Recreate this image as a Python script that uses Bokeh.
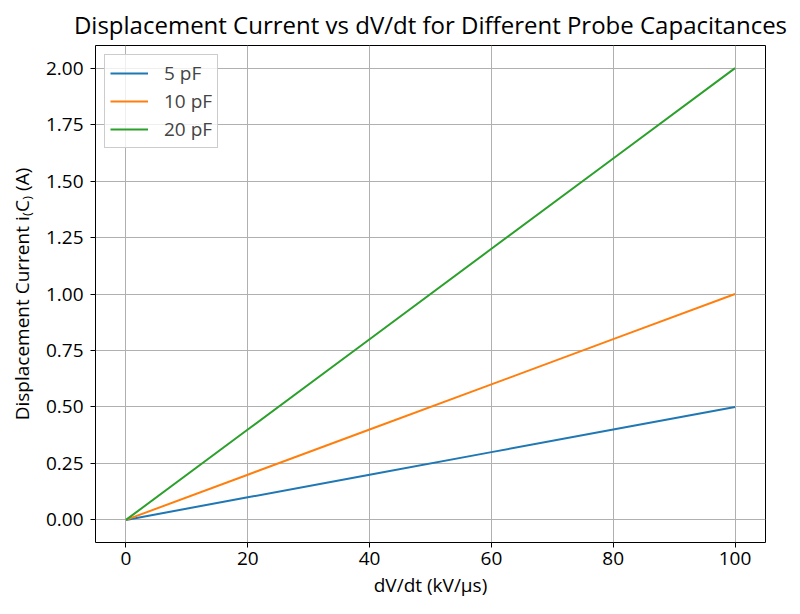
from bokeh.plotting import figure
from bokeh.models import Range1d, FixedTicker, NumeralTickFormatter, Legend, LegendItem
from bokeh.embed import file_html
from bokeh.resources import INLINE

dvdt = [0, 20, 40, 60, 80, 100]
i_5pf = [0.0, 0.1, 0.2, 0.3, 0.4, 0.5]
i_10pf = [0.0, 0.2, 0.4, 0.6, 0.8, 1.0]
i_20pf = [0.0, 0.4, 0.8, 1.2, 1.6, 2.0]
labels = ["5 pF", "10 pF", "20 pF"]
colors = ["#1f77b4", "#ff7f0e", "#2ca02c"]
x_ticks = [0, 20, 40, 60, 80, 100]
y_ticks = [0, 0.25, 0.5, 0.75, 1.0, 1.25, 1.5, 1.75, 2.0]

FONT = "Open Sans"

p = figure(width=800, height=614, output_backend="svg", toolbar_location=None,
           x_range=Range1d(-5, 105), y_range=Range1d(-0.1, 2.1),
           min_border_left=95, min_border_right=35, min_border_top=44, min_border_bottom=72)
p.title.text = "Displacement Current vs dV/dt for Different Probe Capacitances"
p.title.align = "center"
p.title.text_font = FONT
p.title.text_font_size = "24px"
p.title.text_font_style = "normal"
p.title.text_color = "#000000"

p.outline_line_color = "#000000"
p.outline_line_width = 1

for ax in (p.xaxis[0], p.yaxis[0]):
    ax.axis_label_text_font = FONT
    ax.axis_label_text_font_size = "19px"
    ax.axis_label_text_font_style = "normal"
    ax.axis_label_text_color = "#000000"
    ax.major_label_text_font = FONT
    ax.major_label_text_font_size = "19px"
    ax.major_label_text_color = "#000000"
    ax.minor_tick_line_color = None
    ax.major_tick_in = 0
    ax.major_tick_out = 5
    ax.axis_line_color = None
    ax.major_tick_line_color = "#000000"
    ax.axis_label_standoff = 4
    ax.major_label_standoff = 4

p.yaxis.major_label_standoff = 7
p.yaxis.axis_label_standoff = 8

p.xaxis.axis_label = "dV/dt (kV/\u00b5s)"
p.yaxis.axis_label = "Displacement Current i\u208dC\u208e (A)"
p.xaxis.ticker = FixedTicker(ticks=x_ticks)
p.yaxis.ticker = FixedTicker(ticks=y_ticks)
p.yaxis.formatter = NumeralTickFormatter(format="0.00")

p.grid.grid_line_color = "#b0b0b0"
p.grid.grid_line_width = 1
p.xgrid.ticker = FixedTicker(ticks=x_ticks)
p.ygrid.ticker = FixedTicker(ticks=y_ticks)

items = []
for ys, lab, c in zip([i_5pf, i_10pf, i_20pf], labels, colors):
    r = p.line(dvdt, ys, line_color=c, line_width=2)
    items.append(LegendItem(label=lab, renderers=[r]))

legend = Legend(items=items, location="top_left")
legend.label_text_font = FONT
legend.label_text_font_size = "19px"
legend.border_line_color = "#cccccc"
legend.border_line_alpha = 1
legend.background_fill_alpha = 0.8
legend.glyph_width = 38
legend.spacing = 2
legend.padding = 5
legend.margin = 9
legend.label_standoff = 16
p.add_layout(legend)

open("out.html", "w").write(file_html(p, INLINE))
